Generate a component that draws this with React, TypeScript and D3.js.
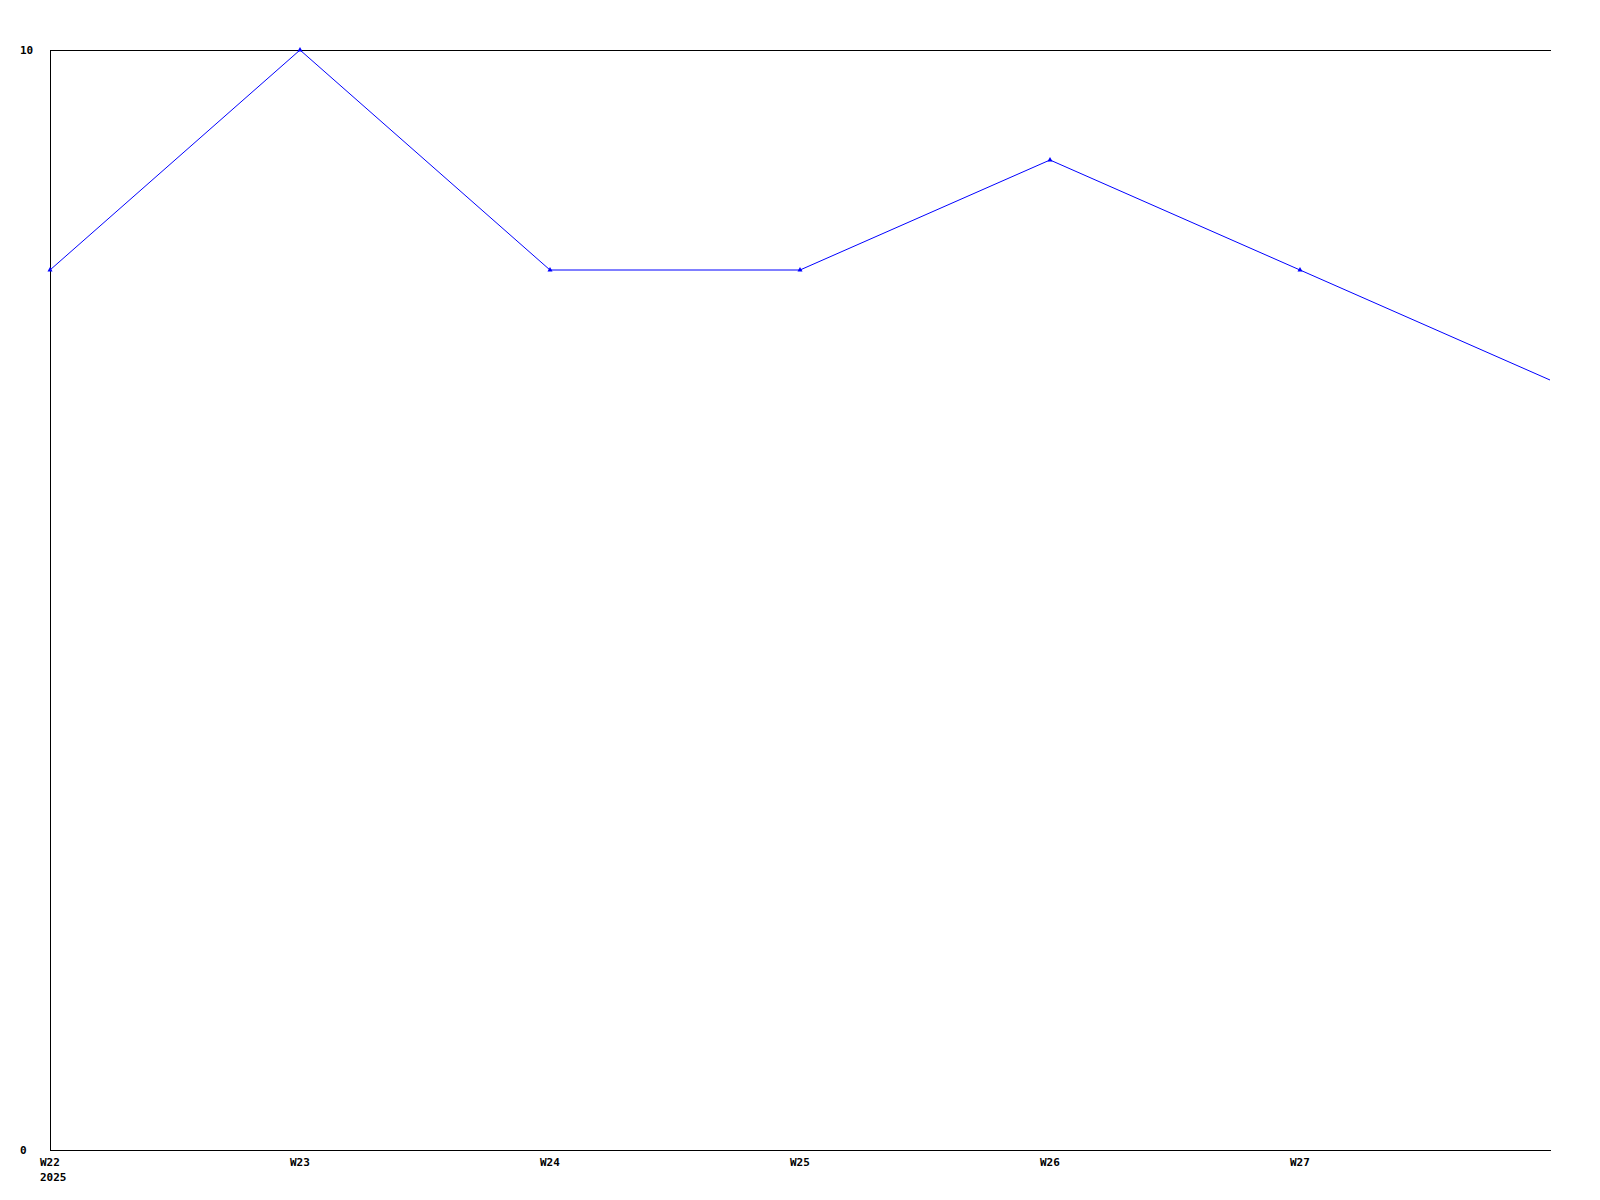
import React from "react";
import * as d3 from "d3";

const weekLabels = ["W22", "W23", "W24", "W25", "W26", "W27", ""];
const values = [8, 10, 8, 8, 9, 8, 7];
const yearLabel = "2025";
const yTicks = [0, 10];

const W = 1600;
const H = 1200;
const left = 50;
const right = 1551;
const top = 50;
const bottom = 1150;

export default function App() {
  const x = d3.scaleLinear().domain([0, values.length - 1]).range([left, 1550]);
  const y = d3.scaleLinear().domain([0, 10]).range([bottom, top]);
  const line = d3
    .line<number>()
    .x((_, i) => x(i))
    .y((d) => y(d));
  const font = "'DejaVu Sans Mono', monospace";
  return (
    <svg
      width={W}
      height={H}
      style={{ position: "absolute", left: 0, top: 0, background: "#fff" }}
    >
      <rect x={0} y={0} width={W} height={H} fill="#fff" />
      <g stroke="#000" strokeWidth={1} shapeRendering="crispEdges">
        <line x1={left} x2={right} y1={top + 0.5} y2={top + 0.5} />
        <line x1={left} x2={right} y1={bottom + 0.5} y2={bottom + 0.5} />
        <line x1={left + 0.5} x2={left + 0.5} y1={top} y2={bottom} />
      </g>
      {yTicks.map((t) => (
        <text
          key={t}
          x={20}
          y={y(t) + 4}
          fontFamily={font}
          fontWeight="bold"
          fontSize={11}
          fill="#000"
        >
          {t}
        </text>
      ))}
      {weekLabels.map((l, i) =>
        l ? (
          <text
            key={i}
            x={x(i) - 10}
            y={1166}
            fontFamily={font}
            fontWeight="bold"
            fontSize={11}
            fill="#000"
          >
            {l}
          </text>
        ) : null
      )}
      <text
        x={x(0) - 10}
        y={1181}
        fontFamily={font}
        fontWeight="bold"
        fontSize={11}
        fill="#000"
      >
        {yearLabel}
      </text>
      <path d={line(values) || ""} fill="none" stroke="#0000ff" strokeWidth={1} />
      {values.slice(0, values.length - 1).map((v, i) => (
        <path
          key={i}
          d={`M${x(i)},${y(v) - 3}L${x(i) + 2.5},${y(v) + 1.5}L${x(i) - 2.5},${y(v) + 1.5}Z`}
          fill="#0000ff"
        />
      ))}
    </svg>
  );
}
